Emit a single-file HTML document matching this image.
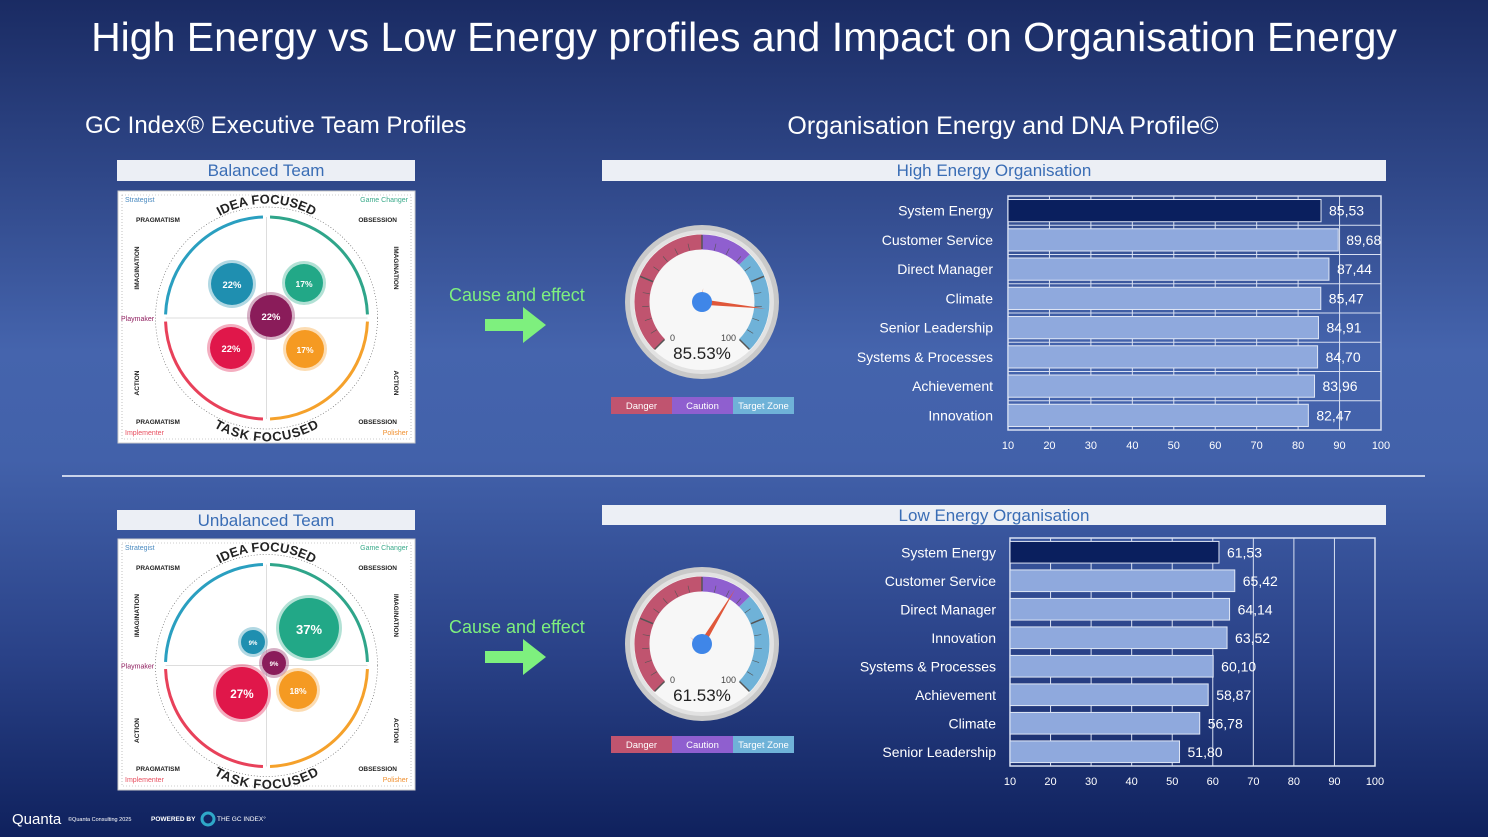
<!DOCTYPE html>
<html><head><meta charset="utf-8">
<style>
html,body{margin:0;padding:0;width:1488px;height:837px;overflow:hidden;}
body{background:linear-gradient(180deg,#1a2b63 0%,#2c4383 18%,#4564ad 42%,#4261aa 55%,#2a4288 78%,#0f215d 100%);font-family:"Liberation Sans",sans-serif;}
svg{position:absolute;left:0;top:0;}
</style></head><body>
<svg id="s" width="1488" height="837" viewBox="0 0 1488 837" xmlns="http://www.w3.org/2000/svg">
<text x="744" y="51" text-anchor="middle" fill="#fff" font-size="41">High Energy vs Low Energy profiles and Impact on Organisation Energy</text>
<text x="85" y="133" fill="#fff" font-size="24">GC Index® Executive Team Profiles</text>
<text x="1003" y="134" text-anchor="middle" fill="#fff" font-size="25">Organisation Energy and DNA Profile©</text>
<rect x="117" y="160" width="298" height="21" fill="#eceff5"/>
<text x="266" y="176" text-anchor="middle" fill="#3a6db5" font-size="17">Balanced Team</text>
<rect x="602" y="160" width="784" height="21" fill="#eceff5"/>
<text x="994" y="176" text-anchor="middle" fill="#3a6db5" font-size="17">High Energy Organisation</text>
<rect x="117" y="510" width="298" height="20" fill="#eceff5"/>
<text x="266" y="526" text-anchor="middle" fill="#3a6db5" font-size="17">Unbalanced Team</text>
<rect x="602" y="505" width="784" height="20" fill="#eceff5"/>
<text x="994" y="521" text-anchor="middle" fill="#3a6db5" font-size="17">Low Energy Organisation</text>
<line x1="62" y1="476" x2="1425" y2="476" stroke="#c9d3ea" stroke-width="2"/>
<g>
<text x="449" y="301" fill="#7ef07e" font-size="18">Cause and effect</text>
<path d="M485 319 H523 V307 L546 325 L523 343 V331 H485 Z" fill="#7ef07e"/>
</g>
<g>
<text x="449" y="633" fill="#7ef07e" font-size="18">Cause and effect</text>
<path d="M485 651 H523 V639 L546 657 L523 675 V663 H485 Z" fill="#7ef07e"/>
</g>
<g id="p1"></g><g id="p2"></g><g id="g1"></g><g id="g2"></g><g id="c1"></g><g id="c2"></g>
<g>
<text x="12" y="824" fill="#fff" font-size="15">Quanta</text>
<text x="68" y="821" fill="#fff" font-size="5.5">©Quanta Consulting 2025</text>
<text x="151" y="821" fill="#fff" font-size="6.5" font-weight="bold">POWERED BY</text>
<circle cx="208" cy="819" r="6" fill="none" stroke="#2fa8c8" stroke-width="3"/>
<text x="217" y="821" fill="#fff" font-size="6.5">THE GC INDEX°</text>
</g>
</svg>
<script>
const NS="http://www.w3.org/2000/svg";
function el(p,t,a){const e=document.createElementNS(NS,t);for(const k in a)e.setAttribute(k,a[k]);p.appendChild(e);return e;}

// ---- chart data ----
const topCats=["System Energy","Customer Service","Direct Manager","Climate","Senior Leadership","Systems & Processes","Achievement","Innovation"];
const topVals=[85.53,89.68,87.44,85.47,84.91,84.70,83.96,82.47];
const botCats=["System Energy","Customer Service","Direct Manager","Innovation","Systems & Processes","Achievement","Climate","Senior Leadership"];
const botVals=[61.53,65.42,64.14,63.52,60.10,58.87,56.78,51.80];
const xTicks=[10,20,30,40,50,60,70,80,90,100];
const gaugeVals=[85.53,61.53];
const topBubbles=[22,17,22,22,17];
const botBubbles=[9,37,9,27,18];

function barChart(id,cats,vals,x0,x1,y0,y1,hLines,lblX){
  const g=document.getElementById(id);
  
  
  const xs=v=>x0+(v-10)/(100-10)*(x1-x0);
  const step=(y1-y0)/cats.length;
  xTicks.forEach(t=>{
    const l=el(g,'line',{x1:xs(t),x2:xs(t),y1:y0,y2:y1,stroke:'#d8e0f2','stroke-width':1});
    
    
    const tx=el(g,'text',{x:xs(t),y:y1+19,'text-anchor':'middle',fill:'#fff','font-size':11});
    tx.textContent=t;
    
    
  });
  if(hLines){for(let i=1;i<cats.length;i++){el(g,'line',{x1:x0,x2:x1,y1:y0+i*step,y2:y0+i*step,stroke:'#d8e0f2','stroke-width':1});}}
  el(g,'rect',{x:x0,y:y0,width:x1-x0,height:y1-y0,fill:'none',stroke:'#d8e0f2','stroke-width':1.5});
  cats.forEach((c,i)=>{
    const cy=y0+step*(i+0.5);
    const b=el(g,'rect',{x:x0,y:cy-step*0.38,width:xs(vals[i])-x0,height:step*0.76,fill:i===0?'#0a1f5e':'#8fa9dd',stroke:'#dfe6f5','stroke-width':1});
    
    
    const lb=el(g,'text',{x:lblX,y:cy+5,'text-anchor':'end',fill:'#fff','font-size':14});
    lb.textContent=c;
    
    
    const v=el(g,'text',{x:xs(vals[i])+8,y:cy+5,fill:'#fff','font-size':14});
    v.textContent=vals[i].toFixed(2).replace('.',',');
    
    
  });
}
barChart('c1',topCats,topVals,1008,1381,196,430,true,993);
barChart('c2',botCats,botVals,1010,1375,538,766,false,996);

function gauge(id,cx,cy,val,ly){
  const g=document.getElementById(id);
  
  
  el(g,'circle',{cx,cy,r:77,fill:'#c9c9c9'});
  el(g,'circle',{cx,cy,r:72,fill:'#e2e2e2'});
  el(g,'circle',{cx,cy,r:68,fill:'#f7f7f7'});
  const ang=v=>(-135+v/100*270)*Math.PI/180;
  const pt=(v,r)=>[cx+r*Math.sin(ang(v)),cy-r*Math.cos(ang(v))];
  function arc(a,b,col){const r=60;const p=pt(a,r),q=pt(b,r);const large=(b-a)*2.7>180?1:0;
    el(g,'path',{d:`M${p[0]} ${p[1]} A${r} ${r} 0 ${large} 1 ${q[0]} ${q[1]}`,fill:'none',stroke:col,'stroke-width':15});}
  arc(0,50,'#c0546f');arc(50,66.7,'#8f5fcf');arc(66.7,100,'#6fb2d8');
  for(let v=0;v<=100;v+=5){const a=pt(v,53),b=pt(v,v%25===0?67:60);el(g,'line',{x1:a[0],y1:a[1],x2:b[0],y2:b[1],stroke:'#555','stroke-width':v%25===0?1.5:0.6});}
  const tip=pt(val,64),t1=pt(val-50,4),t2=pt(val+50,4),tail=pt(val+100,14);
  const n=el(g,'path',{d:`M${tip[0]} ${tip[1]} L${t1[0]} ${t1[1]} L${tail[0]} ${tail[1]} L${t2[0]} ${t2[1]} Z`,fill:'#e0573a'});
  
  
  el(g,'circle',{cx,cy,r:10,fill:'#3f86e8'});
  const a=el(g,'text',{x:cx-32,y:cy+39,'font-size':9,fill:'#444'});a.textContent='0';
  const b=el(g,'text',{x:cx+19,y:cy+39,'font-size':9,fill:'#444'});b.textContent='100';
  const t=el(g,'text',{x:cx,y:cy+57,'text-anchor':'middle','font-size':17,fill:'#222'});
  t.textContent=val.toFixed(2)+'%';
  
  
  [['Danger','#c0546f'],['Caution','#8f5fcf'],['Target Zone','#6fb2d8']].forEach((d,i)=>{
    const r=el(g,'rect',{x:611+i*61,y:ly,width:61,height:17,fill:d[1]});
    
    
    const tx=el(g,'text',{x:641.5+i*61,y:ly+12,'text-anchor':'middle','font-size':9.5,fill:'#fff'});tx.textContent=d[0];
  });
}
gauge('g1',702,302,gaugeVals[0],397);
gauge('g2',702,644,gaugeVals[1],736);

function profile(id,x,y,w,h,vals,pos,top){
  const g=document.getElementById(id);
  
  
  el(g,'rect',{x,y,width:w,height:h,fill:'#fff',stroke:'#ccc'});
  el(g,'rect',{x:x+4,y:y+4,width:w-8,height:h-8,fill:'none',stroke:'#999','stroke-dasharray':'1 2','stroke-width':0.6});
  const cx=x+w/2,cy=y+h/2+1,R=101;
  el(g,'circle',{cx,cy,r:R+10,fill:'none',stroke:'#555','stroke-dasharray':'1 2','stroke-width':0.6});
  const q=[['#2a9fc0',180,270],['#2fa58a',270,360],['#f5a12b',0,90],['#e8415a',90,180]];
  q.forEach(d=>{const a1=(d[1]+2)*Math.PI/180,a2=(d[2]-2)*Math.PI/180;
    el(g,'path',{d:`M${cx+R*Math.cos(a1)} ${cy+R*Math.sin(a1)} A${R} ${R} 0 0 1 ${cx+R*Math.cos(a2)} ${cy+R*Math.sin(a2)}`,fill:'none',stroke:d[0],'stroke-width':3});});
  el(g,'line',{x1:cx,x2:cx,y1:cy-R,y2:cy+R,stroke:'#ddd'});el(g,'line',{x1:cx-R,x2:cx+R,y1:cy,y2:cy,stroke:'#ddd'});
  const pid=id+'arc',pid2=id+'arc2';
  el(g,'path',{id:pid,d:`M${cx-60} ${cy-R+8} A${R-6} ${R-6} 0 0 1 ${cx+60} ${cy-R+8}`,fill:'none'});
  el(g,'path',{id:pid2,d:`M${cx-60} ${cy+R-8} A${R-6} ${R-6} 0 0 0 ${cx+60} ${cy+R-8}`,fill:'none'});
  const t1=el(g,'text',{'font-size':13,'font-weight':'bold',fill:'#222'});const tp=el(t1,'textPath',{href:'#'+pid,startOffset:'50%','text-anchor':'middle'});tp.textContent='IDEA FOCUSED';
  const t2=el(g,'text',{'font-size':13,'font-weight':'bold',fill:'#222',dy:9});const tp2=el(t2,'textPath',{href:'#'+pid2,startOffset:'50%','text-anchor':'middle'});tp2.textContent='TASK FOCUSED';
  const sm=(tx,xx,yy,c,anc,sz,wt)=>{const t=el(g,'text',{x:xx,y:yy,'font-size':sz||6.5,fill:c||'#222','text-anchor':anc||'start','font-weight':wt||'bold'});t.textContent=tx;return t;};
  sm('Strategist',x+7,y+11,'#4a8ac0','start',7,'normal');sm('Game Changer',x+w-7,y+11,'#3aaa8a','end',7,'normal');
  sm('Implementer',x+7,y+h-8,'#e85060','start',7,'normal');sm('Polisher',x+w-7,y+h-8,'#f09030','end',7,'normal');
  sm('Playmaker',x+3,cy+3,'#902060','start',7,'normal');
  sm('PRAGMATISM',x+18,y+31);sm('OBSESSION',x+w-18,y+31,null,'end');sm('PRAGMATISM',x+18,y+h-19);sm('OBSESSION',x+w-18,y+h-19,null,'end');
  [['IMAGINATION',x+21,cy-50,-90],['ACTION',x+21,cy+65,-90],['IMAGINATION',x+w-21,cy-50,90],['ACTION',x+w-21,cy+65,90]].forEach(d=>{
    const t=sm(d[0],0,0,null,'middle');t.setAttribute('transform',`translate(${d[1]},${d[2]}) rotate(${d[3]})`);});
  const cols=['#1f8fb0','#22a887','#8a1c5a','#e0174a','#f59a22'];
  vals.forEach((v,i)=>{const p=pos[i];
    el(g,'circle',{cx:p[0],cy:p[1],r:p[2]+3,fill:cols[i],opacity:0.35});
    const c=el(g,'circle',{cx:p[0],cy:p[1],r:p[2],fill:cols[i]});
    
    
    const t=el(g,'text',{x:p[0],y:p[1]+Math.max(3,p[2]*0.2),'text-anchor':'middle',fill:'#fff','font-size':Math.max(6,Math.min(13,p[2]*0.45)),'font-weight':'bold'});
    t.textContent=v+'%';});
}
profile('p1',118,191,297,252,topBubbles,[[232,284,21],[304,283,19],[271,316,21],[231,348,21],[305,349,19]],true);
profile('p2',118,539,297,251,botBubbles,[[253,642,12],[309,628,30],[274,663,12],[242,693,26],[298,690,19]],false);
</script>
</body></html>
